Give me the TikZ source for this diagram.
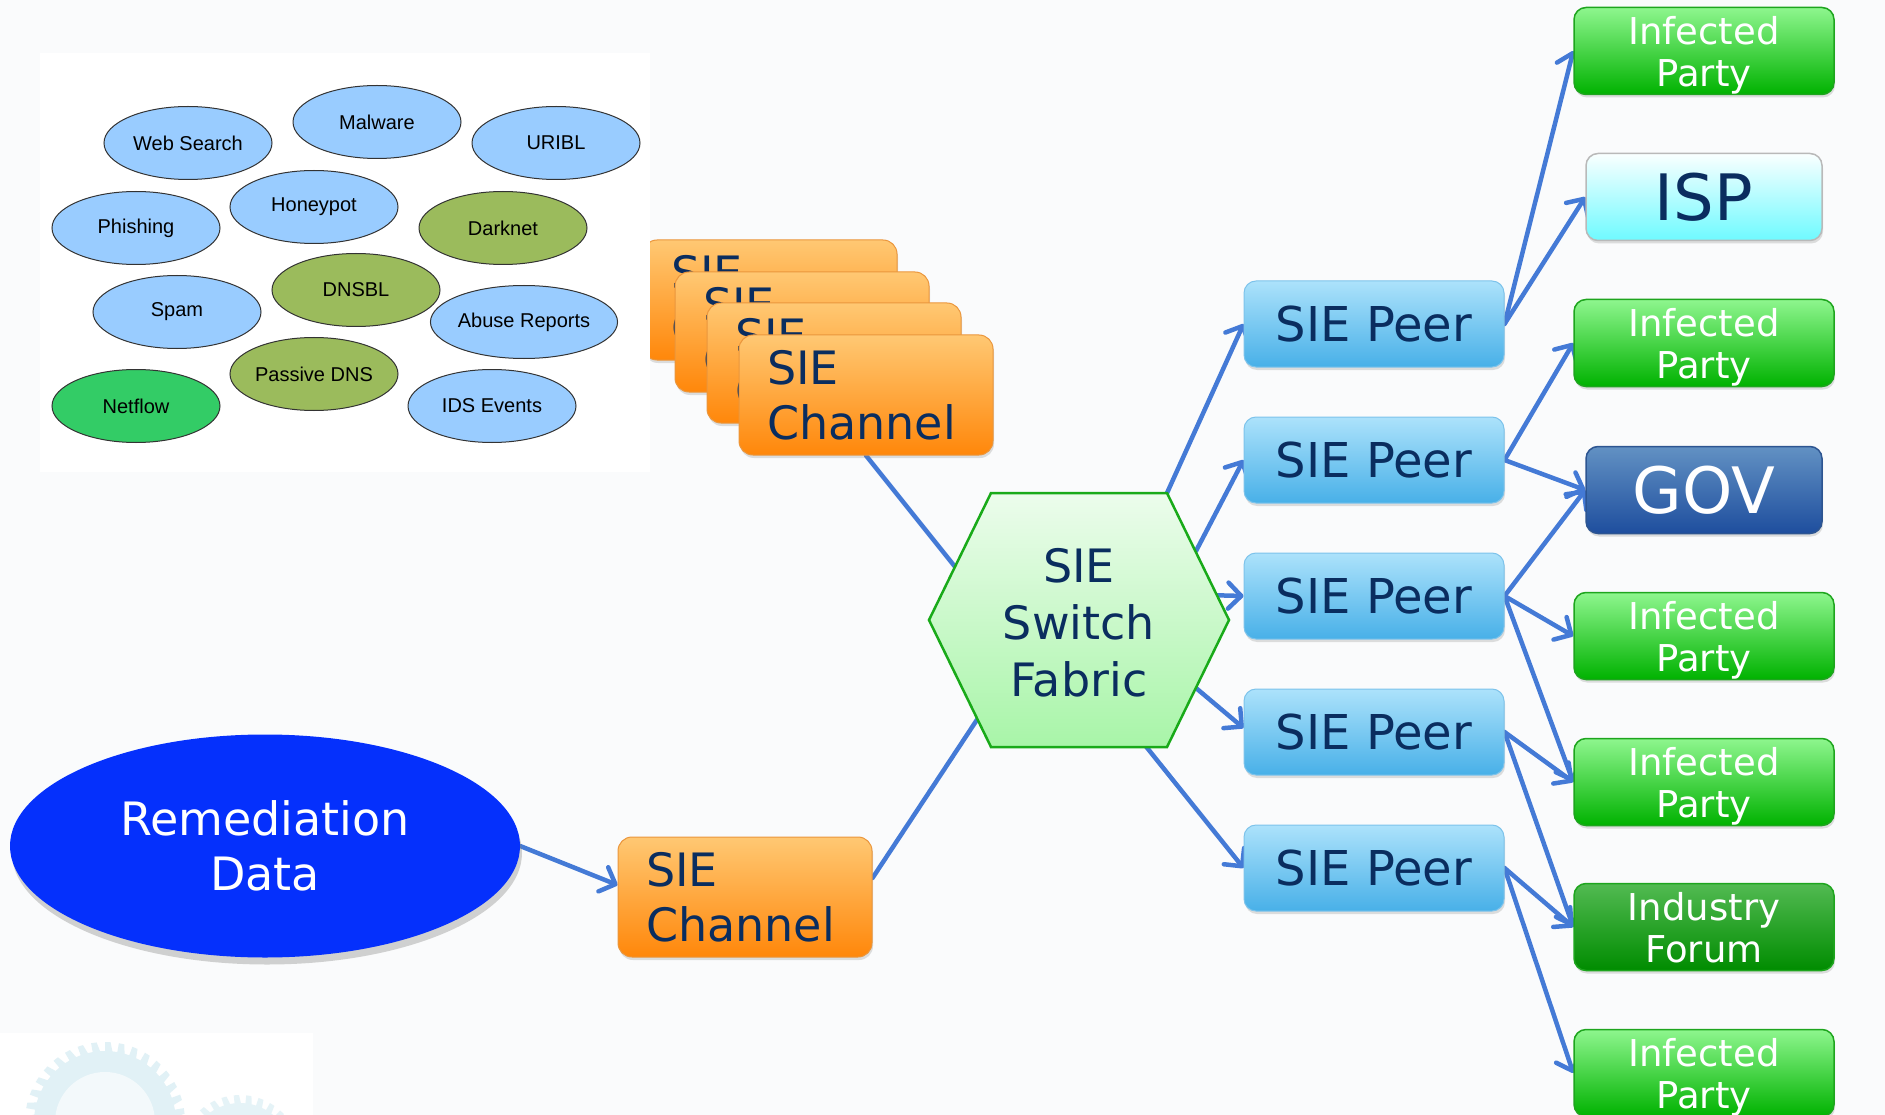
\documentclass[tikz,border=0pt]{standalone}
\usepackage{fontspec}
\setmainfont{DejaVu Sans}
\newfontfamily\arialf{Liberation Sans}
\usetikzlibrary{arrows.meta,shadows,shapes.geometric,calc}
\definecolor{bgc}{RGB}{250,251,252}
\definecolor{navy}{RGB}{10,45,95}
\definecolor{lineblue}{RGB}{68,122,214}
\definecolor{chantop}{RGB}{255,200,115}
\definecolor{chanbot}{RGB}{255,135,10}
\definecolor{chanborder}{RGB}{235,150,60}
\definecolor{peertop}{RGB}{172,226,251}
\definecolor{peerbot}{RGB}{72,176,232}
\definecolor{peerborder}{RGB}{125,195,235}
\definecolor{inftop}{RGB}{142,246,142}
\definecolor{infbot}{RGB}{0,178,0}
\definecolor{infborder}{RGB}{30,165,30}
\definecolor{fortop}{RGB}{82,186,82}
\definecolor{forbot}{RGB}{0,140,0}
\definecolor{isptop}{RGB}{250,255,255}
\definecolor{ispbot}{RGB}{110,250,255}
\definecolor{ispborder}{RGB}{185,185,185}
\definecolor{govtop}{RGB}{98,145,195}
\definecolor{govbot}{RGB}{30,78,158}
\definecolor{govborder}{RGB}{45,85,145}
\definecolor{hextop}{RGB}{236,252,236}
\definecolor{hexbot}{RGB}{168,245,168}
\definecolor{hexborder}{RGB}{25,170,25}
\definecolor{remc}{RGB}{5,48,252}
\definecolor{srcblue}{RGB}{153,204,255}
\definecolor{srcolive}{RGB}{155,187,92}
\definecolor{srcgreen}{RGB}{51,204,102}
\definecolor{gearc}{RGB}{205,232,240}
\pgfdeclarelayer{back}
\pgfdeclarelayer{edges}
\pgfsetlayers{back,edges,main}
\begin{document}
\begin{tikzpicture}[x=1pt,y=-1pt,
  conn/.style={draw=lineblue,line width=4.5pt,line cap=round},
  arr/.style={conn,-{Straight Barb[length=13pt,width=26pt,round]}},
  boxshadow/.style={drop shadow={shadow xshift=1pt,shadow yshift=-3pt,opacity=0.25}},
  chan/.style={rounded corners=14pt,draw=chanborder,line width=1pt,top color=chantop,bottom color=chanbot,
    minimum width=254pt,minimum height=120pt,inner xsep=28pt,inner ysep=0pt,text width=198pt,
    align=left,text=navy,font=\fontsize{46}{55}\selectfont,boxshadow},
  peer/.style={rounded corners=12pt,draw=peerborder,line width=1pt,top color=peertop,bottom color=peerbot,
    minimum width=260pt,minimum height=86pt,inner sep=0pt,text=navy,font=\fontsize{48}{56}\selectfont,boxshadow},
  inf/.style={rounded corners=12pt,draw=infborder,line width=1.5pt,top color=inftop,bottom color=infbot,
    minimum width=260pt,minimum height=87pt,inner sep=0pt,align=center,text=white,text depth=0pt,
    font=\fontsize{37}{42}\selectfont,boxshadow},
  forum/.style={inf,top color=fortop,bottom color=forbot},
  big/.style={rounded corners=12pt,line width=1.5pt,minimum width=236pt,minimum height=87pt,inner sep=0pt,
    font=\fontsize{64}{70}\selectfont,boxshadow},
  src/.style={ellipse,draw=black!80,line width=1pt,minimum width=168pt,minimum height=73pt,inner sep=0pt,
    font=\arialf\fontsize{20}{24}\selectfont},
  hexlabel/.style={align=center,text=navy,font=\fontsize{46}{57}\selectfont}
]
\useasboundingbox (0,0) rectangle (1885,1115);
\begin{pgfonlayer}{back}
  \fill[bgc] (0,0) rectangle (1885,1115);
  \fill[white] (0,1033) rectangle (313,1115);
  \fill[gearc,opacity=0.6,shift={(105,1122)}] (0:80)
    \foreach \i in {0,...,35} { -- ({\i*10}:80) -- ({\i*10+4}:80) -- ({\i*10+6}:71) -- ({\i*10+10}:71) } -- cycle;
  \fill[white,opacity=0.6] (105,1122) circle (50);
  \fill[gearc,opacity=0.5,shift={(240,1155)}] (0:60)
    \foreach \i in {0,...,29} { -- ({\i*12}:60) -- ({\i*12+5}:60) -- ({\i*12+7}:52) -- ({\i*12+12}:52) } -- cycle;
\end{pgfonlayer}

% stacked SIE channels
\node[chan] (c1) at (770,300) {SIE\\Channel};
\node[chan] (c2) at (802,332) {SIE\\Channel};
\node[chan] (c3) at (834,363) {SIE\\Channel};
\node[chan] (c4) at (866,395) {SIE\\Channel};

% source panel
\fill[white] (40,53) rectangle (650,472);
\node[src,fill=srcblue]  (websearch) at (188,143) {Web Search};
\node[src,fill=srcblue]  (malware)   at (377,122) {Malware};
\node[src,fill=srcblue]  (uribl)     at (556,143) {URIBL};
\node[src,fill=srcblue]  (phishing)  at (136,228) {Phishing};
\node[src,fill=srcblue]  (honeypot)  at (314,207) {Honeypot};
\node[src,fill=srcolive] (darknet)   at (503,228) {Darknet};
\node[src,fill=srcolive] (dnsbl)     at (356,290) {DNSBL};
\node[src,fill=srcblue]  (spam)      at (177,312) {Spam};
\node[src,fill=srcblue]  (abuse)     at (524,322) {Abuse Reports};
\node[src,fill=srcolive] (pdns)      at (314,374) {Passive DNS};
\node[src,fill=srcgreen] (netflow)   at (136,406) {Netflow};
\node[src,fill=srcblue]  (ids)       at (492,406) {IDS Events};

% remediation data
\node[ellipse,fill=remc,minimum width=510pt,minimum height=223pt,inner sep=0pt,align=center,text=white,
  font=\fontsize{46}{55}\selectfont,drop shadow={shadow xshift=2pt,shadow yshift=-7pt,opacity=0.35}]
  (rem) at (265,846) {Remediation\\Data};
\node[chan] (c5) at (745,897) {SIE\\Channel};

% hexagon
\coordinate (hTL) at (991,493);
\coordinate (hTR) at (1167,493);
\coordinate (hR)  at (1229,620);
\coordinate (hBR) at (1167,747);
\coordinate (hBL) at (991,747);
\coordinate (hL)  at (929,620);
\path[draw=hexborder,line width=2.5pt,top color=hextop,bottom color=hexbot]
  (hTL) -- (hTR) -- (hR) -- (hBR) -- (hBL) -- (hL) -- cycle;
\node[hexlabel] (hex) at (1079,623) {SIE\\Switch\\Fabric};
\coordinate (hx1) at (1167,493);
\coordinate (hx2) at (1196,551);
\coordinate (hx3) at (1205,595);
\coordinate (hx4) at (1190,683);
\coordinate (hx5) at (1140,739);
\coordinate (hxA) at (968,583);
\coordinate (hxB) at (990,700);

% peers
\node[peer] (p1) at (1374,324) {SIE Peer};
\node[peer] (p2) at (1374,460) {SIE Peer};
\node[peer] (p3) at (1374,596) {SIE Peer};
\node[peer] (p4) at (1374,732) {SIE Peer};
\node[peer] (p5) at (1374,868) {SIE Peer};

% recipients
\node[inf] (ip1) at (1704,51) {Infected\\Party};
\node[big,draw=ispborder,top color=isptop,bottom color=ispbot,text=navy] (isp) at (1704,197) {ISP};
\node[inf] (ip2) at (1704,343) {Infected\\Party};
\node[big,draw=govborder,top color=govtop,bottom color=govbot,text=white] (gov) at (1704,490) {GOV};
\node[inf] (ip3) at (1704,636) {Infected\\Party};
\node[inf] (ip4) at (1704,782) {Infected\\Party};
\node[forum] (forum) at (1704,927) {Industry\\Forum};
\node[inf] (ip5) at (1704,1073) {Infected\\Party};

\begin{pgfonlayer}{edges}
  \draw[conn] (c4.south) -- (hxA);
  \draw[conn] ([yshift=19pt]c5.east) -- (hxB);
  \draw[arr] (rem.east) -- ([yshift=12pt]c5.west);
  \draw[arr] (hx1) -- (p1.west);
  \draw[arr] (hx2) -- (p2.west);
  \draw[arr] (hx3) -- (p3.west);
  \draw[arr] (hx4) -- ([yshift=4pt]p4.west);
  \draw[arr] (hx5) -- (p5.west);
  \draw[arr] (p1.east) -- (ip1.west);
  \draw[arr] (p1.east) -- (isp.west);
  \draw[arr] (p2.east) -- (ip2.west);
  \draw[arr] (p2.east) -- (gov.west);
  \draw[arr] (p3.east) -- (gov.west);
  \draw[arr] (p3.east) -- (ip3.west);
  \draw[arr] (p3.east) -- (ip4.west);
  \draw[arr] (p4.east) -- (ip4.west);
  \draw[arr] (p4.east) -- (forum.west);
  \draw[arr] (p5.east) -- (forum.west);
  \draw[arr] (p5.east) -- (ip5.west);
\end{pgfonlayer}
\end{tikzpicture}
\end{document}
